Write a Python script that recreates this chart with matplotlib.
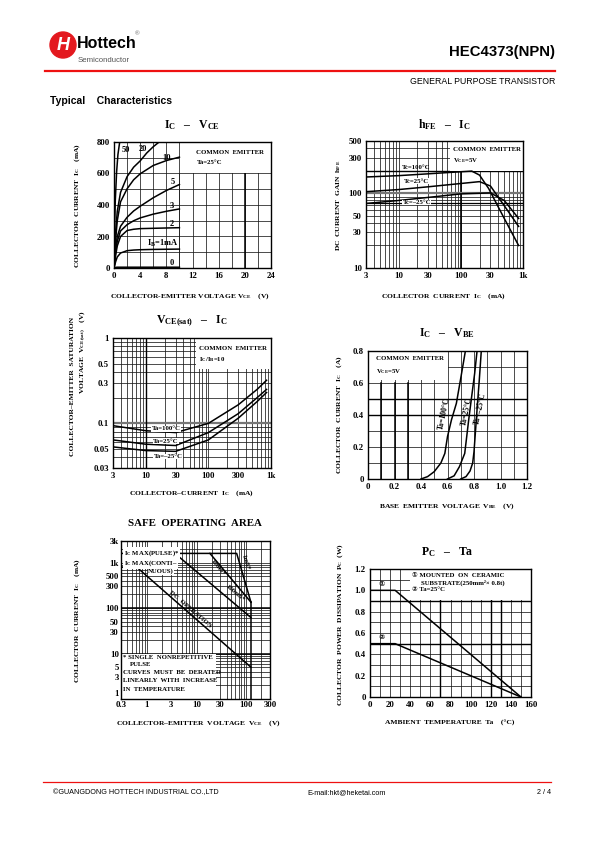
import matplotlib
matplotlib.use("Agg")
import matplotlib.pyplot as plt
import numpy as np
from matplotlib.patches import Circle, Rectangle
from matplotlib.ticker import (FixedLocator, FixedFormatter, LogLocator,
                               NullFormatter)

W, H = 595, 842

# ---------------- data ----------------
# Ic - Vce (V, mA), one curve per base current
vce = [0, 0.25, 0.5, 1, 2, 3, 4, 6, 8, 10]
ic_ib0 = [0, 4, 5, 5, 5, 5, 5, 5, 5, 5]
ic_ib1 = [0, 40, 70, 95, 110, 114, 116, 118, 119, 120]
ic_ib2 = [0, 80, 140, 200, 238, 246, 250, 252, 254, 256]
ic_ib3 = [0, 100, 170, 235, 275, 300, 318, 342, 360, 375]
ic_ib5 = [0, 120, 200, 265, 322, 362, 392, 446, 492, 530]
ic_ib10 = [0, 180, 300, 420, 503, 560, 598, 651, 682, 704]
vce_ib20 = [0, 0.25, 0.5, 1, 2, 3, 4, 5, 6, 6.9]
ic_ib20 = [0, 230, 360, 480, 580, 640, 680, 730, 770, 800]
vce_ib50 = [0, 0.1, 0.2, 0.4, 0.6, 0.87]
ic_ib50 = [0, 260, 430, 610, 720, 800]
ib_labels = ["50", "20", "10", "5", "3", "2", "I$_B$=1mA", "0"]

# hFE - Ic (mA)
ic_h100 = [3, 10, 30, 100, 150, 200, 280, 500, 850]
hfe_100 = [165, 172, 182, 194, 198, 175, 116, 46, 20]
ic_h25 = [3, 10, 30, 100, 200, 300, 500, 850]
hfe_25 = [105, 112, 122, 135, 143, 125, 68, 36]
ic_hm25 = [3, 10, 30, 100, 300, 500, 850]
hfe_m25 = [73, 80, 88, 98, 101, 80, 46]

# Vce(sat) - Ic (mA, V)
ic_sat = [3, 10, 30, 100, 300, 600, 850]
vsat_100 = [0.094, 0.082, 0.078, 0.1, 0.165, 0.25, 0.32]
vsat_25 = [0.064, 0.057, 0.055, 0.078, 0.13, 0.2, 0.25]
vsat_m25 = [0.053, 0.048, 0.047, 0.064, 0.115, 0.18, 0.23]

# Ic - Vbe (V, A)
vbe_100 = [0.40, 0.45, 0.50, 0.55, 0.58, 0.60, 0.63, 0.667, 0.70, 0.735]
ic_v100 = [0, 0.015, 0.046, 0.10, 0.16, 0.265, 0.37, 0.473, 0.63, 0.8]
vbe_25 = [0.60, 0.65, 0.69, 0.73, 0.76, 0.78, 0.805, 0.823]
ic_v25 = [0, 0.02, 0.077, 0.16, 0.37, 0.5, 0.66, 0.8]
vbe_m25 = [0.70, 0.74, 0.77, 0.79, 0.80, 0.82, 0.84, 0.855]
ic_vm25 = [0, 0.015, 0.05, 0.10, 0.17, 0.40, 0.62, 0.8]

# Safe operating area (V, mA)
soa_dc_v = [0.3, 0.62, 124]
soa_dc_i = [800, 800, 5]
soa_100ms_v = [0.3, 3.65, 124]
soa_100ms_i = [1600, 1600, 62]
soa_10ms_v = [18.5, 124]
soa_10ms_i = [1600, 135]
soa_1ms_v = [3.65, 64, 124]
soa_1ms_i = [1600, 1600, 135]
soa_lim_v = [124, 124]
soa_lim_i = [1, 135]

# Pc - Ta (degC, W)
ta = [0, 25, 150]
pc_ceramic = [1.0, 1.0, 0.0]
pc_free = [0.5, 0.5, 0.0]

# ---------------- fonts ----------------
plt.rcParams['font.family'] = ['Liberation Serif', 'DejaVu Sans', 'Noto Sans CJK JP']
plt.rcParams['font.weight'] = 'bold'
plt.rcParams['mathtext.fontset'] = 'custom'
plt.rcParams['mathtext.rm'] = 'Liberation Serif:bold'
plt.rcParams['mathtext.it'] = 'Liberation Serif:bold'
plt.rcParams['mathtext.bf'] = 'Liberation Serif:bold'

SANS = ['Liberation Sans', 'DejaVu Sans']
TICK = 6.3
LAB = 5.4
NOTE = 4.9

fig = plt.figure(figsize=(W / 100, H / 100), dpi=100)

# page layer in pixel coordinates
page = fig.add_axes([0, 0, 1, 1])
page.set_xlim(0, W)
page.set_ylim(H, 0)
page.axis('off')


def px_axes(l, t, r, b):
    return fig.add_axes([l / W, 1 - b / H, (r - l) / W, (b - t) / H])


def ptext(x, y, s, **kw):
    kw.setdefault('ha', 'center')
    kw.setdefault('va', 'center')
    page.text(x, y, s, **kw)


def style(ax):
    ax.tick_params(which='both', length=0, labelsize=TICK, pad=3)
    for sp in ax.spines.values():
        sp.set_linewidth(1.0)
    ax.grid(which='both', color='#1a1a1a', lw=0.55)
    ax.set_axisbelow(True)


def lin_ticks(axis, major, labels, minor):
    axis.set_major_locator(FixedLocator(major))
    axis.set_major_formatter(FixedFormatter(labels))
    axis.set_minor_locator(FixedLocator(minor))


def log_ticks(axis, major, labels):
    axis.set_major_locator(FixedLocator(major))
    axis.set_major_formatter(FixedFormatter(labels))
    axis.set_minor_locator(LogLocator(base=10, subs=np.arange(1, 10), numticks=100))
    axis.set_minor_formatter(NullFormatter())


def white_box(ax, x, y, w, h):
    ax.add_patch(Rectangle((x, y), w, h, fc='white', ec='none', zorder=1))


# ---------------- header / footer ----------------
page.add_patch(Circle((63, 45), 13, color='#e3191f'))
ptext(63, 45.5, 'H', color='white', fontsize=13, family=SANS, style='italic')
ptext(77, 44, 'Hottech', ha='left', fontsize=11.5, family=SANS)
ptext(78, 60, 'Semiconductor', ha='left', fontsize=5.6, family=SANS,
      weight='normal', color='#555555')
ptext(137, 34, '®', fontsize=4.5, family=SANS, weight='normal', color='#666666')
page.plot([45, 555], [71, 71], color='#ee1111', lw=1.6)
ptext(555, 52, 'HEC4373(NPN)', ha='right', fontsize=10.7, family=SANS)
ptext(555, 82, 'GENERAL PURPOSE TRANSISTOR', ha='right', fontsize=6.3,
      family=SANS, weight='normal')
ptext(50, 101, 'Typical    Characteristics', ha='left', fontsize=7.5, family=SANS)

page.plot([43, 551], [782, 782], color='#ee1111', lw=0.9)
ptext(53, 793, '©GUANGDONG HOTTECH INDUSTRIAL CO.,LTD', ha='left', fontsize=5.2,
      family=SANS, weight='normal')
ptext(307, 793, 'E-mail:hkt@heketai.com', ha='left', fontsize=5.2, family=SANS,
      weight='normal')
ptext(551, 793, '2 / 4', ha='right', fontsize=5.2, family=SANS, weight='normal')

# ---------------- 1. Ic - Vce ----------------
ax = px_axes(114, 142, 271, 268)
style(ax)
ax.set_xlim(0, 24)
ax.set_ylim(0, 800)
lin_ticks(ax.xaxis, list(range(0, 25, 4)), [str(v) for v in range(0, 25, 4)],
          list(range(0, 25, 2)))
lin_ticks(ax.yaxis, list(range(0, 801, 200)), [str(v) for v in range(0, 801, 200)],
          list(range(0, 801, 100)))
ax.axvline(20, color='black', lw=1.1, zorder=0.6)
white_box(ax, 10, 605, 14, 195)
ax.axvline(10, color='#1a1a1a', lw=0.55, zorder=1.1)
ax.text(12.6, 736, 'COMMON  EMITTER', fontsize=NOTE, va='center')
ax.text(12.6, 672, 'Ta=25°C', fontsize=NOTE, va='center')
curves = [(vce_ib50, ic_ib50), (vce_ib20, ic_ib20), (vce, ic_ib10), (vce, ic_ib5),
          (vce, ic_ib3), (vce, ic_ib2), (vce, ic_ib1), (vce, ic_ib0)]
for xs, ys in curves:
    ax.plot(xs, ys, color='black', lw=1.1, zorder=3)
label_pos = [(1.75, 752), (4.45, 758), (8.1, 700), (8.9, 545), (8.9, 395),
             (8.9, 282), (7.5, 157), (8.9, 32)]
for (lx, ly), s in zip(label_pos, ib_labels):
    ax.text(lx, ly, s, fontsize=6, ha='center', va='center', zorder=4)
ptext(192, 125, 'I$_C$   –   V$_{CE}$', fontsize=8.5)
ptext(190, 296, 'COLLECTOR-EMITTER VOLTAGE V$_{CE}$    (V)', fontsize=LAB)
ptext(77, 205, 'COLLECTOR  CURRENT  I$_C$    (mA)', fontsize=LAB, rotation=90)

# ---------------- 2. hFE - Ic ----------------
ax = px_axes(366, 141, 523, 268)
style(ax)
ax.set_xscale('log')
ax.set_yscale('log')
ax.set_xlim(3, 1000)
ax.set_ylim(10, 500)
log_ticks(ax.xaxis, [3, 10, 30, 100, 300, 1000], ['3', '10', '30', '100', '30', '1k'])
log_ticks(ax.yaxis, [10, 30, 50, 100, 300, 500], ['10', '30', '50', '100', '300', '500'])
ax.axvline(100, color='black', lw=1.2, zorder=0.6)
ax.axhline(200, color='black', lw=1.0, zorder=0.6)
ax.axhline(100, color='#777777', lw=1.6, zorder=0.6)
ax.axhline(75, color='black', lw=0.9, zorder=0.6)
white_box(ax, 67, 200, 933, 300)
ax.text(75, 390, 'COMMON  EMITTER', fontsize=NOTE, va='center')
ax.text(75, 278, 'V$_{CE}$=5V', fontsize=NOTE, va='center')
for xs, ys in [(ic_h100, hfe_100), (ic_h25, hfe_25), (ic_hm25, hfe_m25)]:
    ax.plot(xs, ys, color='black', lw=1.1, zorder=3)
ax.text(19, 222, 'Tc=100°C', fontsize=NOTE, ha='center', va='center', zorder=4)
ax.text(19.6, 145, 'Tc=25°C', fontsize=NOTE, ha='center', va='center', zorder=4,
        bbox=dict(fc='white', ec='none', pad=0.3))
ax.text(19.6, 75, 'Tc=–25°C', fontsize=NOTE, ha='center', va='center', zorder=4,
        bbox=dict(fc='white', ec='none', pad=0.3))
ptext(444, 125, 'h$_{FE}$   –   I$_C$', fontsize=8.5)
ptext(444, 296, 'COLLECTOR  CURRENT  I$_C$    (mA)', fontsize=LAB)
ptext(339, 205, 'DC  CURRENT  GAIN  h$_{FE}$', fontsize=LAB, rotation=90)

# ---------------- 3. Vce(sat) - Ic ----------------
ax = px_axes(113, 338, 271, 468)
style(ax)
ax.set_xscale('log')
ax.set_yscale('log')
ax.set_xlim(3, 1000)
ax.set_ylim(0.03, 1)
log_ticks(ax.xaxis, [3, 10, 30, 100, 300, 1000], ['3', '10', '30', '100', '300', '1k'])
log_ticks(ax.yaxis, [0.03, 0.05, 0.1, 0.3, 0.5, 1], ['0.03', '0.05', '0.1', '0.3', '0.5', '1'])
ax.axhline(0.1, color='#777777', lw=1.6, zorder=0.6)
ax.axvline(10, color='black', lw=1.0, zorder=0.6)
white_box(ax, 63, 0.43, 937, 0.57)
ax.text(72, 0.76, 'COMMON  EMITTER', fontsize=NOTE, va='center')
ax.text(72, 0.56, 'I$_C$/I$_B$=10', fontsize=NOTE, va='center')
for ys in [vsat_100, vsat_25, vsat_m25]:
    ax.plot(ic_sat, ys, color='black', lw=1.1, zorder=3)
for lx, ly, s in [(21, 0.086, 'Ta=100°C'), (21, 0.062, 'Ta=25°C'), (23, 0.041, 'Ta=–25°C')]:
    ax.text(lx, ly, s, fontsize=NOTE, ha='center', va='center', zorder=4,
            bbox=dict(fc='white', ec='none', pad=0.3))
ptext(192, 321, 'V$_{CE(sat)}$   –   I$_C$', fontsize=8.5)
ptext(192, 493, 'COLLECTOR–CURRENT  I$_C$    (mA)', fontsize=LAB)
ptext(73, 386, 'COLLECTOR–EMITTER  SATURATION', fontsize=LAB, rotation=90)
ptext(83, 352, 'VOLTAGE  V$_{CE(sat)}$    (V)', fontsize=LAB, rotation=90)

# ---------------- 4. Ic - Vbe ----------------
ax = px_axes(368, 351, 527, 479)
style(ax)
ax.set_xlim(0, 1.2)
ax.set_ylim(0, 0.8)
lin_ticks(ax.xaxis, [0, 0.2, 0.4, 0.6, 0.8, 1.0, 1.2],
          ['0', '0.2', '0.4', '0.6', '0.8', '1.0', '1.2'],
          [i / 10 for i in range(13)])
lin_ticks(ax.yaxis, [0, 0.2, 0.4, 0.6, 0.8], ['0', '0.2', '0.4', '0.6', '0.8'],
          [i / 10 for i in range(9)])
for xv in (0.1, 0.2, 0.3):
    ax.plot([xv, xv], [0, 0.6], color='black', lw=1.1, zorder=0.6)
ax.axhline(0.4, color='black', lw=1.0, zorder=0.6)
ax.axhline(0.5, color='black', lw=1.0, zorder=0.6)
white_box(ax, 0, 0.62, 0.6, 0.18)
ax.text(0.06, 0.755, 'COMMON  EMITTER', fontsize=NOTE, va='center')
ax.text(0.06, 0.67, 'V$_{CE}$=5V', fontsize=NOTE, va='center')
for xs, ys in [(vbe_100, ic_v100), (vbe_25, ic_v25), (vbe_m25, ic_vm25)]:
    ax.plot(xs, ys, color='black', lw=1.1, zorder=3)
for lx, ly, s in [(0.58, 0.41, 'Ta=100°C'), (0.745, 0.42, 'Ta=25°C'),
                  (0.85, 0.44, 'Ta=–25°C')]:
    ax.text(lx, ly, s, fontsize=NOTE + 0.6, ha='center', va='center', rotation=78,
            zorder=4)
ptext(447, 333, 'I$_C$   –   V$_{BE}$', fontsize=8.5)
ptext(447, 506, 'BASE  EMITTER  VOLTAGE  V$_{BE}$    (V)', fontsize=LAB)
ptext(339, 415, 'COLLECTOR  CURRENT  I$_C$    (A)', fontsize=LAB, rotation=90)

# ---------------- 5. Safe operating area ----------------
ax = px_axes(121, 541, 270, 699)
style(ax)
ax.tick_params(which='both', pad=1.5)
ax.set_xscale('log')
ax.set_yscale('log')
ax.set_xlim(0.3, 300)
ax.set_ylim(1, 3000)
log_ticks(ax.xaxis, [0.3, 1, 3, 10, 30, 100, 300],
          ['0.3', '1', '3', '10', '30', '100', '300'])
log_ticks(ax.yaxis, [1, 3, 5, 10, 30, 50, 100, 300, 500, 1000, 3000],
          ['', '3', '5', '10', '30', '50', '100', '300', '500', '1k', '3k'])
ax.axhline(10, color='black', lw=1.1, zorder=0.6)
ax.axhline(100, color='black', lw=1.1, zorder=0.6)
white_box(ax, 0.3, 1, 24.7, 9)
for xs, ys in [(soa_dc_v, soa_dc_i), (soa_100ms_v, soa_100ms_i),
               (soa_10ms_v, soa_10ms_i), (soa_1ms_v, soa_1ms_i),
               (soa_lim_v, soa_lim_i)]:
    ax.plot(xs, ys, color='black', lw=1.1, zorder=3)
ax.text(0.34, 1600, 'I$_C$ MAX(PULSE)*', fontsize=NOTE, va='center', zorder=4,
        bbox=dict(fc='white', ec='none', pad=0.8))
ax.text(0.34, 960, 'I$_C$ MAX(CONTI–', fontsize=NOTE, va='center', zorder=4,
        bbox=dict(fc='white', ec='none', pad=0.3))
ax.text(1.05, 640, 'NUOUS)', fontsize=NOTE, va='center', zorder=4,
        bbox=dict(fc='white', ec='none', pad=0.3))
ax.text(7.6, 95, 'DC  OPERATION', fontsize=NOTE, ha='center', va='center',
        rotation=-40.5, zorder=4)
ax.text(27, 800, '10mS*', fontsize=NOTE, ha='center', va='center', rotation=-50,
        zorder=4)
ax.text(60, 215, '100mS*', fontsize=NOTE, ha='center', va='center', rotation=-40,
        zorder=4)
ax.text(96, 1000, '1mS*', fontsize=NOTE, ha='center', va='center', rotation=-72,
        zorder=4)
for ly, s, lx in [(8.3, '* SINGLE  NONREPETITIVE', 0.33), (5.7, 'PULSE', 0.45),
                  (3.8, 'CURVES  MUST  BE  DERATED', 0.33),
                  (2.5, 'LINEARLY  WITH  INCREASE', 0.33),
                  (1.65, 'IN  TEMPERATURE', 0.33)]:
    ax.text(lx, ly, s, fontsize=NOTE, va='center', zorder=4)
ptext(116, 694, '1', fontsize=TICK)
ptext(195, 524, 'SAFE  OPERATING  AREA', fontsize=7.8)
ptext(198, 723, 'COLLECTOR–EMITTER  VOLTAGE  V$_{CE}$    (V)', fontsize=LAB)
ptext(77, 620, 'COLLECTOR  CURRENT  I$_C$    (mA)', fontsize=LAB, rotation=90)

# ---------------- 6. Pc - Ta ----------------
ax = px_axes(370, 569, 531, 697)
style(ax)
ax.set_xlim(0, 160)
ax.set_ylim(0, 1.2)
lin_ticks(ax.xaxis, list(range(0, 161, 20)), [str(v) for v in range(0, 161, 20)],
          list(range(0, 161, 10)))
lin_ticks(ax.yaxis, [0, 0.2, 0.4, 0.6, 0.8, 1.0, 1.2],
          ['0', '0.2', '0.4', '0.6', '0.8', '1.0', '1.2'],
          [i / 10 for i in range(13)])
for xv in (70, 120, 130):
    ax.axvline(xv, color='black', lw=1.0, zorder=0.6)
ax.axhline(0.9, color='black', lw=1.0, zorder=0.6)
ax.axhline(0.5, color='black', lw=1.0, zorder=0.6)
white_box(ax, 40, 0.905, 120, 0.295)
ax.text(42, 1.138, '① MOUNTED  ON  CERAMIC', fontsize=NOTE, va='center')
ax.text(51, 1.075, 'SUBSTRATE(250mm²× 0.8t)', fontsize=NOTE, va='center')
ax.text(42, 1.007, '② Ta=25°C', fontsize=NOTE, va='center')
for ys in [pc_ceramic, pc_free]:
    ax.plot(ta, ys, color='black', lw=1.1, zorder=3)
ax.text(11.6, 1.054, '①', fontsize=NOTE + 0.5, ha='center', va='center', zorder=4)
ax.text(11.6, 0.555, '②', fontsize=NOTE + 0.5, ha='center', va='center', zorder=4)
ptext(447, 552, 'P$_C$   –   Ta', fontsize=8.5)
ptext(450, 723, 'AMBIENT  TEMPERATURE  Ta    (°C)', fontsize=LAB)
ptext(340, 625, 'COLLECTOR  POWER  DISSIPATION  P$_C$  (W)', fontsize=LAB, rotation=90)

fig.savefig('out.png', dpi=100)
